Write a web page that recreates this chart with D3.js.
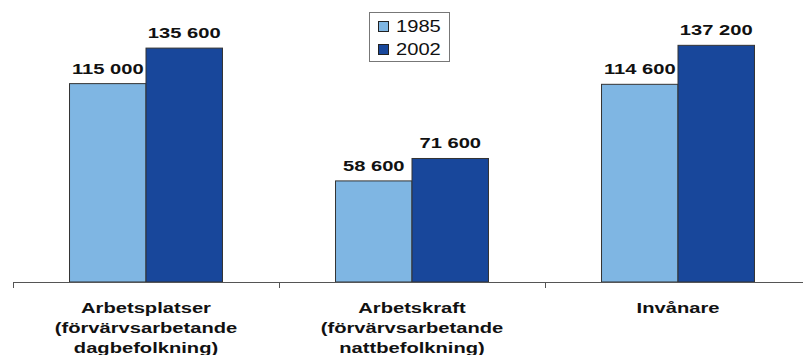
<!DOCTYPE html>
<html><head><meta charset="utf-8">
<script src="https://cdn.jsdelivr.net/npm/d3@7"></script>
<style>body{margin:0;background:#fff}svg{display:block}text{font-family:"Liberation Sans",Arial,sans-serif}</style>
</head><body>
<script>
const categories = [["Arbetsplatser","(förvärvsarbetande","dagbefolkning)"],["Arbetskraft","(förvärvsarbetande","nattbefolkning)"],["Invånare"]];
const categoryKeys = ["Arbetsplatser","Arbetskraft","Invånare"];
const seriesNames = ["1985","2002"];
const values1985 = [115000, 58600, 114600];
const values2002 = [135600, 71600, 137200];
const valueLabels1985 = ["115 000","58 600","114 600"];
const valueLabels2002 = ["135 600","71 600","137 200"];
const colors = ["#7fb6e3","#18479b"];

const W=803,H=355;
const svg=d3.select("body").append("svg").attr("width",W).attr("height",H);
const x0=d3.scaleBand().domain(categoryKeys).range([13,811]).padding(0);
const x1=d3.scaleBand().domain(seriesNames).range([0,x0.bandwidth()]).paddingInner(0).paddingOuter(0.739);
const y=d3.scaleLinear().domain([0,160000]).range([282,6]);
const SX=1.3;

const seriesVals=[values1985,values2002];
const seriesLabels=[valueLabels1985,valueLabels2002];
const data=[];
categoryKeys.forEach((c,i)=>seriesNames.forEach((s,j)=>data.push({c,s,v:seriesVals[j][i],lab:seriesLabels[j][i],col:colors[j]})));

svg.selectAll("rect.bar").data(data).join("rect").attr("class","bar")
 .attr("x",d=>x0(d.c)+x1(d.s)).attr("y",d=>y(d.v))
 .attr("width",x1.bandwidth()).attr("height",d=>y(0)-y(d.v))
 .attr("fill",d=>d.col).attr("stroke","#333").attr("stroke-width",1);

svg.selectAll("text.val").data(data).join("text").attr("class","val")
 .attr("transform",d=>`translate(${x0(d.c)+x1(d.s)+x1.bandwidth()/2},${y(d.v)-10}) scale(${SX},1)`)
 .attr("text-anchor","middle").attr("font-weight","bold").attr("font-size",15.5).attr("fill","#111")
 .text(d=>d.lab);

// axis
const ax=svg.append("g");
ax.append("line").attr("x1",13).attr("x2",811).attr("y1",282.5).attr("y2",282.5).attr("stroke","#555").attr("stroke-width",1);
const tickXs=[x0.range()[0]].concat(categoryKeys.map(c=>x0(c)+x0.bandwidth()));
ax.selectAll("line.t").data(tickXs).join("line").attr("class","t")
 .attr("x1",d=>Math.round(d)+0.5).attr("x2",d=>Math.round(d)+0.5).attr("y1",282).attr("y2",288).attr("stroke","#555");

categoryKeys.forEach((c,i)=>{
  categories[i].forEach((ln,k)=>{
    svg.append("text").attr("transform",`translate(${x0(c)+x0.bandwidth()/2},${313+k*20}) scale(${SX},1)`)
     .attr("text-anchor","middle").attr("font-weight","bold").attr("font-size",15.5).attr("fill","#111").text(ln);
  });
});

// legend
const lg=svg.append("g");
lg.append("rect").attr("x",369.5).attr("y",12.5).attr("width",80).attr("height",49).attr("fill","#fff").attr("stroke","#777");
seriesNames.forEach((s,j)=>{
  lg.append("rect").attr("x",378.5).attr("y",21.5+j*23).attr("width",10).attr("height",10).attr("fill",colors[j]).attr("stroke","#222");
  lg.append("text").attr("transform",`translate(396,${32+j*23}) scale(1.26,1)`).attr("font-size",16).attr("fill","#111").text(s);
});
</script>
</body></html>
